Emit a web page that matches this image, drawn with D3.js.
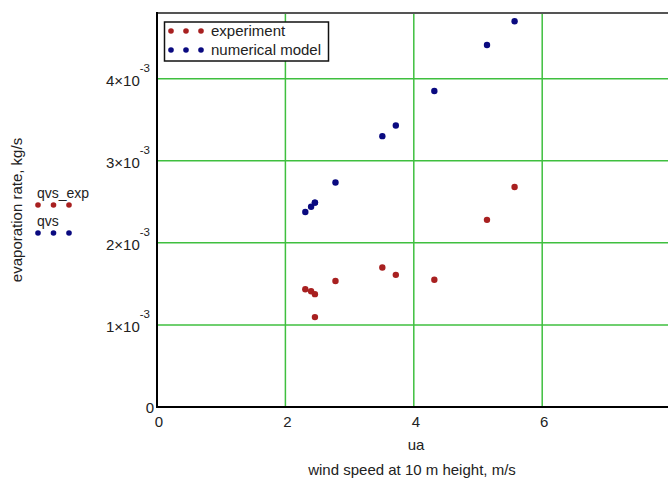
<!DOCTYPE html>
<html>
<head>
<meta charset="utf-8">
<script src="https://cdn.jsdelivr.net/npm/d3@7"></script>
<style>
	body { margin: 0; background: #fff; }
	svg { display: block; font-family: 'Liberation Sans', Arial, sans-serif; }
</style>
</head>
<body>
<svg width="668" height="482"></svg>
<script>
// wind speed, m/s
const ua = [2.31, 2.40, 2.46, 2.46, 2.78, 3.51, 3.72, 4.32, 5.14, 5.57];
// measured evaporation rate, kg/s
const qvsExp = [1.435e-3, 1.41e-3, 1.375e-3, 1.095e-3, 1.535e-3, 1.70e-3, 1.61e-3, 1.55e-3, 2.28e-3, 2.68e-3];
// model evaporation rate, kg/s
const qvs = [2.375e-3, 2.44e-3, 2.49e-3, 2.49e-3, 2.735e-3, 3.30e-3, 3.43e-3, 3.85e-3, 4.41e-3, 4.70e-3];

const xTicks = [0, 2, 4, 6];
const yTicks = [1, 2, 3, 4];

const svg = d3.select('svg'),
	pLeft = 157,
	pRight = 670,
	pTop = 13,
	pBottom = 407;

const x = d3.scaleLinear().domain([0, 8]).range([pLeft, pLeft + 8 * 64.2]);
const y = d3.scaleLinear().domain([0, 4.8e-3]).range([pBottom, pTop]);

const red = '#a82020', blue = '#0a0a80', green = '#3fbf3f';

// grid
svg.append('g')
	.selectAll('line')
	.data(xTicks.filter(d => d > 0))
	.enter().append('line')
	.attr('x1', d => x(d)).attr('x2', d => x(d))
	.attr('y1', pTop).attr('y2', pBottom)
	.attr('stroke', green).attr('stroke-width', 1.5);

svg.append('g')
	.selectAll('line')
	.data(yTicks)
	.enter().append('line')
	.attr('x1', pLeft).attr('x2', pRight)
	.attr('y1', d => y(d * 1e-3)).attr('y2', d => y(d * 1e-3))
	.attr('stroke', green).attr('stroke-width', 1.5);

// frame
svg.append('line').attr('x1', pLeft).attr('x2', pRight).attr('y1', pTop).attr('y2', pTop)
	.attr('stroke', '#555').attr('stroke-width', 2);
svg.append('line').attr('x1', pLeft).attr('x2', pLeft).attr('y1', pTop - 1).attr('y2', pBottom + 1)
	.attr('stroke', '#000').attr('stroke-width', 2);
svg.append('line').attr('x1', pLeft - 1).attr('x2', pRight).attr('y1', pBottom).attr('y2', pBottom)
	.attr('stroke', '#000').attr('stroke-width', 2);

// y tick labels like 4×10^-3
const yLab = svg.append('g').selectAll('text')
	.data(yTicks)
	.enter().append('text')
	.attr('x', pLeft - 7)
	.attr('y', d => y(d * 1e-3) + 7.5)
	.attr('text-anchor', 'end')
	.attr('font-size', 15)
	.attr('fill', '#222');
yLab.append('tspan').text(d => d + '\u00d710');
yLab.append('tspan').attr('dy', -14).attr('font-size', 11.5).text('-3');

svg.append('text').attr('x', pLeft - 3).attr('y', pBottom + 6)
	.attr('text-anchor', 'end').attr('font-size', 15).attr('fill', '#222').text('0');

// x tick labels
svg.append('g').selectAll('text')
	.data(xTicks)
	.enter().append('text')
	.attr('x', d => x(d) + 2)
	.attr('y', pBottom + 20)
	.attr('text-anchor', 'middle')
	.attr('font-size', 15)
	.attr('fill', '#222')
	.text(d => d);

// axis titles
svg.append('text').attr('x', 416).attr('y', 450).attr('text-anchor', 'middle')
	.attr('font-size', 15).attr('fill', '#222').text('ua');
svg.append('text').attr('x', 412).attr('y', 475).attr('text-anchor', 'middle')
	.attr('font-size', 15).attr('fill', '#222').text('wind speed at 10 m height, m/s');
svg.append('text').attr('transform', 'translate(22,210) rotate(-90)').attr('text-anchor', 'middle')
	.attr('font-size', 15).attr('fill', '#222').text('evaporation rate, kg/s');

// series markers
function dots(g, values, color) {
	g.selectAll('circle')
		.data(ua.map((u, i) => [u, values[i]]))
		.enter().append('circle')
		.attr('cx', d => x(d[0]))
		.attr('cy', d => y(d[1]))
		.attr('r', 3.2)
		.attr('fill', color);
}
dots(svg.append('g'), qvsExp, red);
dots(svg.append('g'), qvs, blue);

// left side variable names
const sideNames = [['qvs_exp', red, 198], ['qvs', blue, 226]];
sideNames.forEach(s => {
	svg.append('text').attr('x', 37).attr('y', s[2]).attr('font-size', 14).attr('fill', '#222').text(s[0]);
	svg.append('g').selectAll('circle').data([38, 53.5, 69]).enter().append('circle')
		.attr('cx', d => d).attr('cy', s[2] + 7).attr('r', 2.8).attr('fill', s[1]);
});

// legend
svg.append('rect').attr('x', 164.5).attr('y', 22).attr('width', 164).attr('height', 39)
	.attr('fill', '#fff').attr('stroke', '#111').attr('stroke-width', 1.5);
const legend = [['experiment', red, 31], ['numerical model', blue, 50]];
legend.forEach(l => {
	svg.append('g').selectAll('circle').data([171, 186, 201]).enter().append('circle')
		.attr('cx', d => d).attr('cy', l[2]).attr('r', 2.8).attr('fill', l[1]);
	svg.append('text').attr('x', 211).attr('y', l[2] + 5).attr('font-size', 15)
		.attr('fill', '#222').text(l[0]);
});
</script>
</body>
</html>
